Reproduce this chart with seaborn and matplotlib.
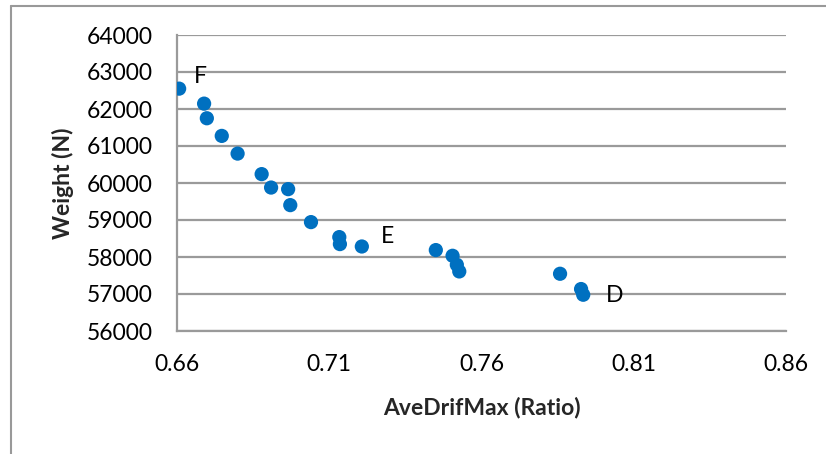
import matplotlib
matplotlib.use("Agg")
import matplotlib.pyplot as plt
from matplotlib.lines import Line2D
import seaborn as sns
import pandas as pd

drift = [0.6607, 0.6689, 0.6698, 0.6747, 0.6799, 0.6878, 0.6909, 0.6965, 0.6972, 0.7040,
         0.7133, 0.7135, 0.7207, 0.7450, 0.7505, 0.7519, 0.7527, 0.7858, 0.7927, 0.7934]
weight = [62550, 62145, 61750, 61273, 60795, 60240, 59877, 59834, 59402, 58943,
          58538, 58349, 58284, 58187, 58033, 57790, 57610, 57547, 57134, 56980]
labels = ["F", "E", "D"]
label_x = [0.6676, 0.7290, 0.8038]
label_y = [62866, 58546, 56953]
xticks = [0.66, 0.71, 0.76, 0.81, 0.86]
yticks = [56000, 57000, 58000, 59000, 60000, 61000, 62000, 63000, 64000]

df = pd.DataFrame({"AveDrifMax (Ratio)": drift, "Weight (N)": weight})

sns.set_style("white")
plt.rcParams["font.family"] = ["Lato", "DejaVu Sans"]

fig = plt.figure(figsize=(8.26, 4.54), dpi=100)
ax = fig.add_axes([177/826, 1-331/454, (786-177)/826, (331-35)/454])

grid_c = "#9a9a9a"
sns.scatterplot(data=df, x="AveDrifMax (Ratio)", y="Weight (N)", ax=ax,
                s=105, color="#0070C0", edgecolor="none", zorder=3)

for t, x, y in zip(labels, label_x, label_y):
    ax.text(x, y, t, fontsize=16.5, ha="center", va="center", color="black")

ax.set_xlim(xticks[0], xticks[-1])
ax.set_ylim(yticks[0], yticks[-1])
ax.set_xticks(xticks)
ax.set_xticklabels([f"{v:.2f}" for v in xticks])
ax.set_yticks(yticks)
ax.set_yticklabels([str(v) for v in yticks])
ax.yaxis.grid(True, color=grid_c, linewidth=1.6)
ax.set_axisbelow(True)
for side in ["top", "right"]:
    ax.spines[side].set_visible(False)
for side in ["left", "bottom"]:
    ax.spines[side].set_color(grid_c)
    ax.spines[side].set_linewidth(1.6)
ax.tick_params(axis="both", which="both", direction="out", length=6.5, width=1.4,
               color=grid_c, labelsize=16.5, labelcolor="black")
ax.tick_params(axis="y", pad=11)
ax.tick_params(axis="x", pad=10)
ax.set_xlabel("AveDrifMax (Ratio)", fontsize=16.5, fontweight="bold", labelpad=16)
ax.set_ylabel("Weight (N)", fontsize=16.5, fontweight="bold", labelpad=9)

fig.add_artist(Line2D([10.5/826, 10.5/826], [0, 1-6/454], transform=fig.transFigure,
                      color="#999999", linewidth=1.5))
fig.add_artist(Line2D([10.5/826, 1], [1-6/454, 1-6/454], transform=fig.transFigure,
                      color="#999999", linewidth=1.5))

fig.savefig("out.png", dpi=100)
